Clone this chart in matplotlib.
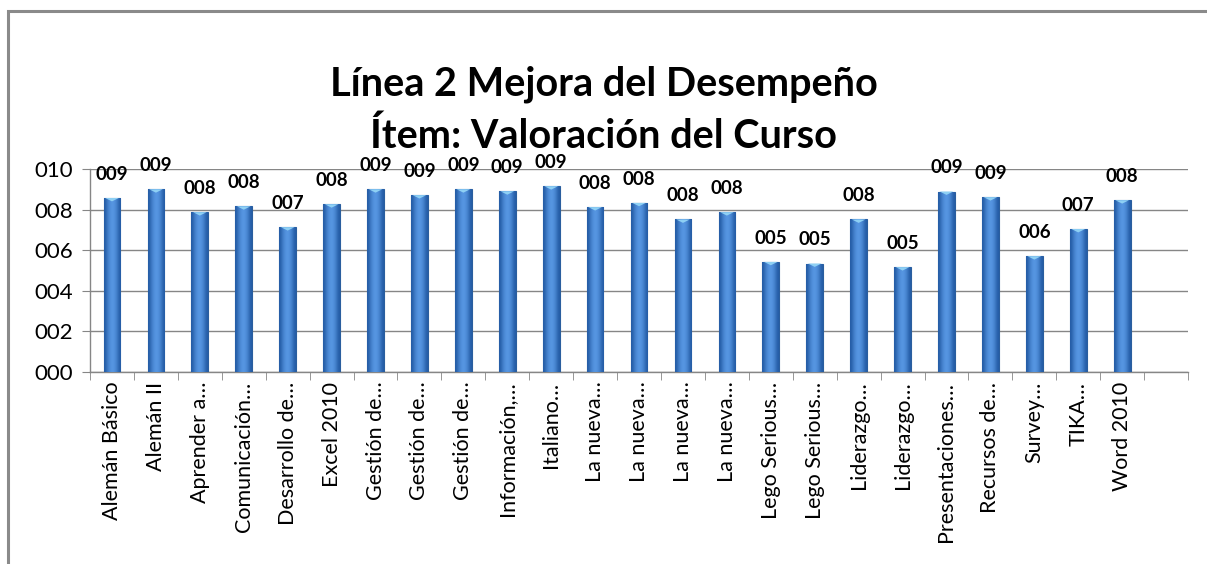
import numpy as np
import matplotlib
matplotlib.use('Agg')
import matplotlib.pyplot as plt
from matplotlib.patches import Rectangle

plt.rcParams['font.family'] = ['Lato', 'DejaVu Sans']

# datos del grafico
cursos = ['Alemán Básico', 'Alemán II', 'Aprender a…', 'Comunicación…', 'Desarrollo de…',
          'Excel 2010', 'Gestión de…', 'Gestión de…', 'Gestión de…', 'Información,…',
          'Italiano…', 'La nueva…', 'La nueva…', 'La nueva…', 'La nueva…',
          'Lego Serious…', 'Lego Serious…', 'Liderazgo…', 'Liderazgo…', 'Presentaciones…',
          'Recursos de…', 'Survey…', 'TIKA…', 'Word 2010']
valores = [8.58, 9.01, 7.88, 8.17, 7.14, 8.27, 9.01, 8.72, 9.01, 8.91,
           9.16, 8.13, 8.34, 7.52, 7.88, 5.43, 5.35, 7.52, 5.17, 8.90,
           8.62, 5.71, 7.05, 8.47]
yticks = [0, 2, 4, 6, 8, 10]

fig = plt.figure(figsize=(12.07, 5.64), dpi=100)
ax = fig.add_axes([0.0746, 0.3404, 0.9097, 0.3596])

x = np.arange(len(cursos))
bars = ax.bar(x, valores, width=0.38, color='#3270BC', edgecolor='#2A5E9E', linewidth=0.8, zorder=3)

# degradado horizontal en cada barra
grad = np.array([[0.0, 0.5, 0.85, 1.0, 0.85, 0.5, 0.0]])
cmap = matplotlib.colors.LinearSegmentedColormap.from_list('b', ['#255DA6', '#5898E4'])
for b in bars:
    bx, by = b.get_x(), b.get_y()
    im = ax.imshow(grad, extent=[bx, bx + b.get_width(), by, by + b.get_height()],
                   cmap=cmap, aspect='auto', zorder=3.5, interpolation='bicubic')
    im.set_clip_path(b)

# triangulito claro arriba
tri = [(-1, 0), (1, 0), (0, -0.5)]
ax.scatter(x, valores, marker=tri, s=95, color='#8ED0F4', edgecolor='none', zorder=4)

for xi, v in zip(x, valores):
    ax.annotate(f'{round(v):03d}', (xi, v), xytext=(0, 17), textcoords='offset points',
                ha='center', va='center', fontsize=13.5, fontweight='bold', color='black')

ax.set_xlim(-0.5, len(cursos) + 0.5)
ax.set_ylim(0, 10)
ax.set_yticks(yticks)
ax.set_yticklabels([f'{t:03d}' for t in yticks], fontsize=16)
ax.set_xticks(x)
ax.set_xticklabels(cursos, rotation=90, fontsize=15.5, va='top')
ax.set_xticks(np.arange(-0.5, len(cursos) + 1, 1), minor=True)
ax.tick_params(axis='x', which='major', length=0, pad=7)
ax.tick_params(axis='x', which='minor', length=6, color='#868686', direction='out')
ax.tick_params(axis='y', length=6, color='#868686', pad=6)

ax.grid(axis='y', color='#868686', linewidth=1, zorder=0)
for s in ['top', 'right']:
    ax.spines[s].set_visible(False)
for s in ['left', 'bottom']:
    ax.spines[s].set_color('#868686')
    ax.spines[s].set_linewidth(1)

fig.text(0.5, 1 - 84 / 564, 'Línea 2 Mejora del Desempeño', ha='center', va='center',
         fontsize=28.5, fontweight='bold')
fig.text(0.5, 1 - 136 / 564, 'Ítem: Valoración del Curso', ha='center', va='center',
         fontsize=28.5, fontweight='bold')

# marco del area del grafico
top = 1 - 11 / 564
fig.patches.append(Rectangle((8 / 1207, -0.2), 1.2, top + 0.2, transform=fig.transFigure,
                             fill=False, edgecolor='#8A8A8A', linewidth=2.2))

fig.savefig('out.png', dpi=100)
